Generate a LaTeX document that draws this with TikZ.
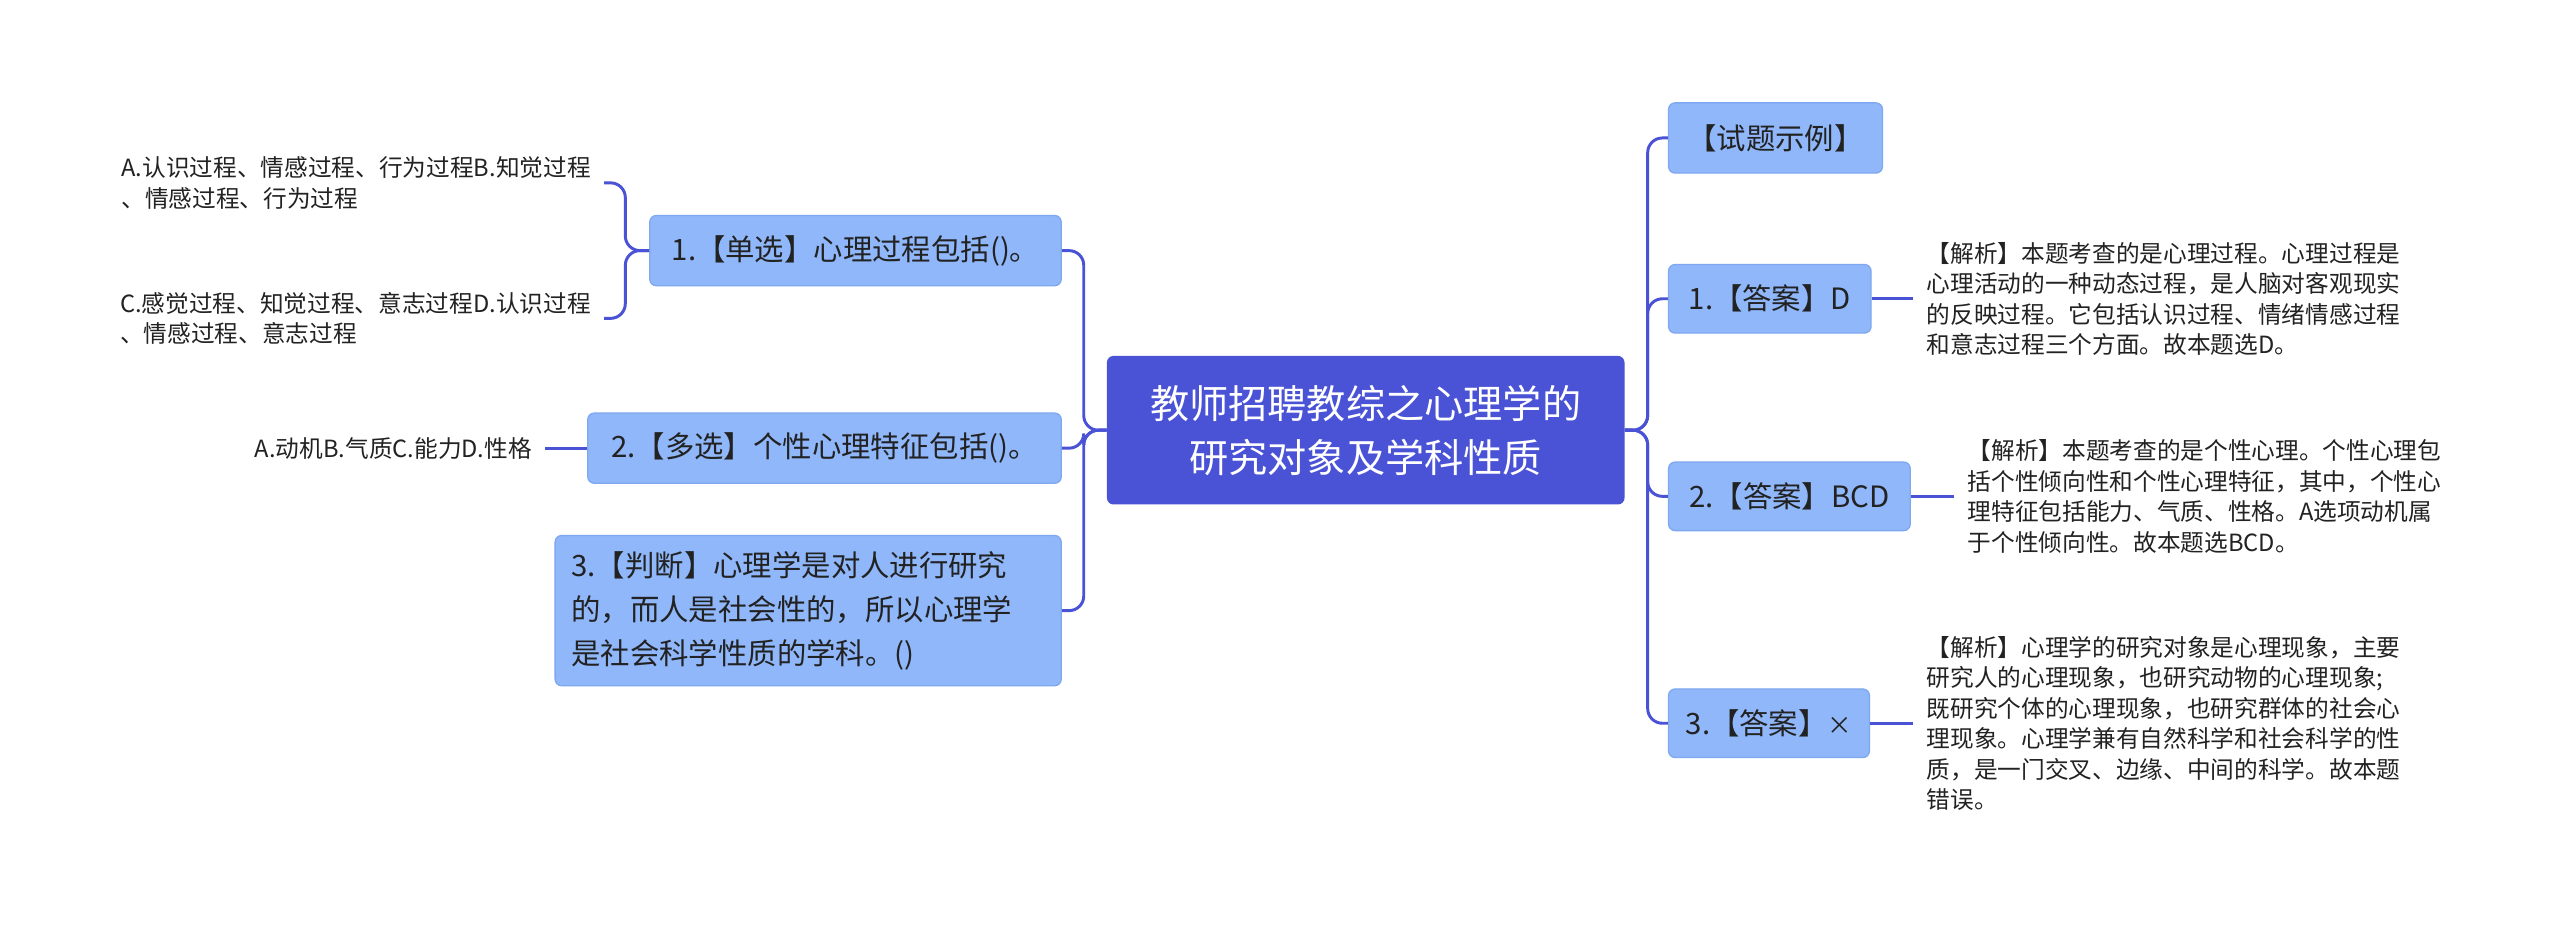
\documentclass[tikz,border=0pt]{standalone}
\usepackage{fontspec}
\newfontfamily\cjk{Noto Sans CJK SC}
\begin{document}
\begin{tikzpicture}[x=1pt,y=-1pt,
  every node/.style={font=\cjk},
  main/.style={draw=none,fill=mainc,rounded corners=4pt,text=white,font=\cjk\fontsize{24}{33}\selectfont,align=center},
  sub/.style={fill=subc,draw=subb,line width=0.8pt,rounded corners=4pt,text=txt,font=\cjk\fontsize{18}{27}\selectfont,inner sep=0pt},
  leaf/.style={text=txt,font=\cjk\fontsize{14.5}{18.7}\selectfont,inner sep=0pt,align=left},
  con/.style={draw=mainc,line width=1.8pt,rounded corners=9pt}]
\definecolor{mainc}{HTML}{4A52D6}
\definecolor{subc}{HTML}{8FB7F9}
\definecolor{subb}{HTML}{7FA8F0}
\definecolor{txt}{HTML}{222222}
\useasboundingbox[fill=white] (0,0) rectangle (1568,570);
\node[main,minimum width=317,minimum height=91] (c) at (836.5,263.5) {教师招聘教综之心理学的\\研究对象及学科性质};
% left
\node[sub,minimum width=252,minimum height=43] (l1) at (524,153.5) {1.【单选】心理过程包括()。};
\node[sub,minimum width=290,minimum height=43] (l2) at (505,274.5) {2.【多选】个性心理特征包括()。};
\node[sub,minimum width=310,minimum height=92,align=left,text width=290pt] (l3) at (495,374) {3.【判断】心理学是对人进行研究\\的，而人是社会性的，所以心理学\\是社会科学性质的学科。()};
\node[leaf,anchor=east] (a1) at (362,112) {A.认识过程、情感过程、行为过程B.知觉过程\\、情感过程、行为过程};
\node[leaf,anchor=east] (a2) at (362,195) {C.感觉过程、知觉过程、意志过程D.认识过程\\、情感过程、意志过程};
\node[leaf,anchor=east] (a3) at (326,274.5) {A.动机B.气质C.能力D.性格};
% right
\node[sub,minimum width=131,minimum height=43] (r0) at (1087.5,84.5) {【试题示例】};
\node[sub,minimum width=124,minimum height=42] (r1) at (1084,183) {1.【答案】D};
\node[sub,minimum width=148,minimum height=42] (r2) at (1096,304) {2.【答案】BCD};
\node[sub,minimum width=123,minimum height=42] (r3) at (1083.5,443) {3.【答案】{\fontsize{15}{15}\selectfont ×}};
\node[leaf,anchor=west] (b1) at (1180,183) {【解析】本题考查的是心理过程。心理过程是\\心理活动的一种动态过程，是人脑对客观现实\\的反映过程。它包括认识过程、情绪情感过程\\和意志过程三个方面。故本题选D。};
\node[leaf,anchor=west] (b2) at (1205,304) {【解析】本题考查的是个性心理。个性心理包\\括个性倾向性和个性心理特征，其中，个性心\\理特征包括能力、气质、性格。A选项动机属\\于个性倾向性。故本题选BCD。};
\node[leaf,anchor=west] (b3) at (1180,443) {【解析】心理学的研究对象是心理现象，主要\\研究人的心理现象，也研究动物的心理现象;\\既研究个体的心理现象，也研究群体的社会心\\理现象。心理学兼有自然科学和社会科学的性\\质，是一门交叉、边缘、中间的科学。故本题\\错误。};
% connectors
\foreach \n in {r0,r1,r2,r3} \draw[con] (c.east) -- ++(14,0) |- (\n.west);
\foreach \n in {l1,l2,l3} \draw[con] (c.west) -- ++(-14,0) |- (\n.east);
\draw[con] (l1.west) -- (383,153.5) |- ([xshift=8pt]a1.east);
\draw[con] (l1.west) -- (383,153.5) |- ([xshift=8pt]a2.east);
\draw[con] (l2.west) -- ([xshift=8pt]a3.east);
\draw[con] (r1.east) -- ([xshift=-8pt]b1.west);
\draw[con] (r2.east) -- ([xshift=-8pt]b2.west);
\draw[con] (r3.east) -- ([xshift=-8pt]b3.west);
\end{tikzpicture}
\end{document}
